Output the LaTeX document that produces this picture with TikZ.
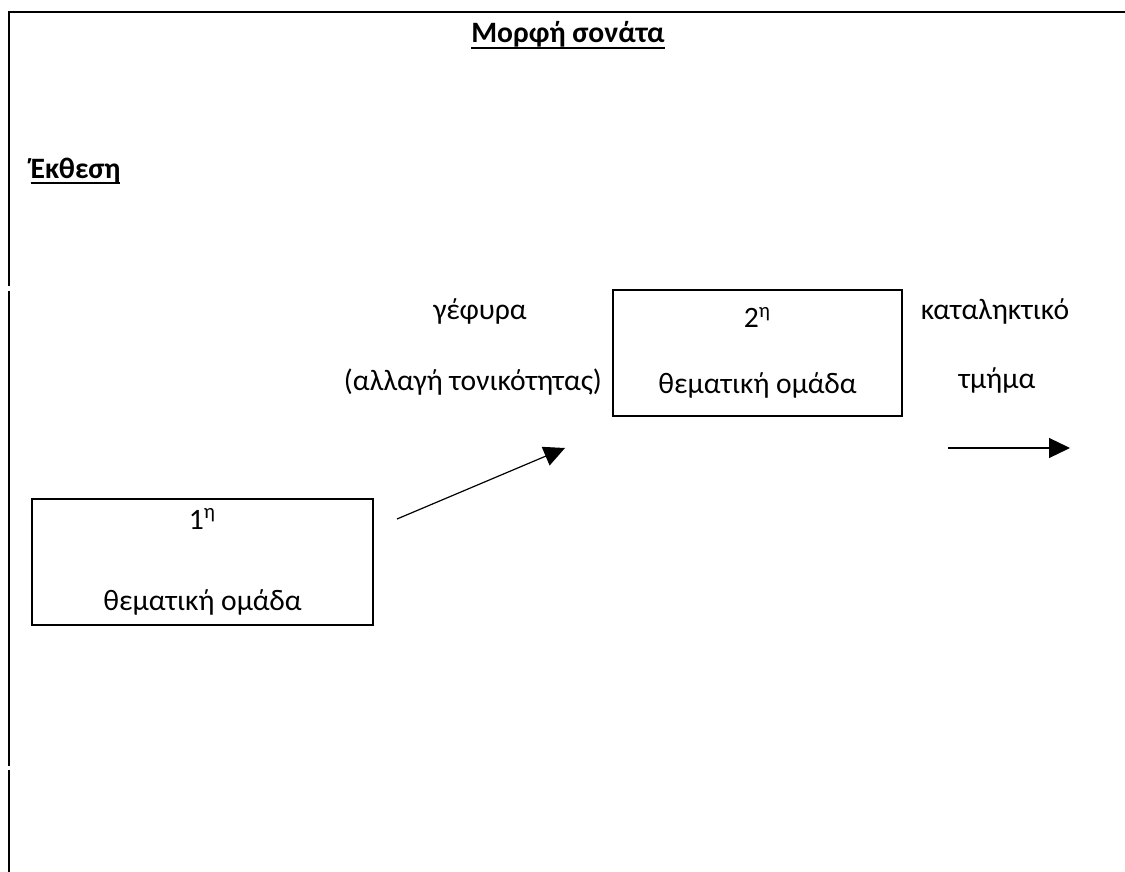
\documentclass[tikz,border=0pt]{standalone}
\usepackage{fontspec}
\setmainfont{Carlito}
\usetikzlibrary{arrows.meta, positioning}

\newcommand{\undl}[1]{\setbox0\hbox{#1}\rlap{\rule[-3pt]{\wd0}{1pt}}\box0}

\tikzset{
  rim/.style={line width=1.1pt},
  groupbox/.style={draw, line width=0.75pt, inner sep=0pt, align=center},
  lbl/.style={anchor=base, inner sep=0pt},
  pointer/.style={line width=0.6pt, -{Triangle[length=10.5pt,width=10pt]}}
}

\begin{document}
\begin{tikzpicture}[x=0.5pt, y=-0.5pt, font=\fontsize{14.8}{17}\selectfont]
    \useasboundingbox (0,0) rectangle (1125,872);
    \draw[rim] (8,12) -- (1125,12)
    (9,12) -- (9,286)
    (9,291) -- (9,766)
    (9,770) -- (9,872);
    \node[lbl] (title) at (568,43) {\undl{\textbf{Μορφή σονάτα}}};
    \node[lbl] (expo) at (75.5,178) {\undl{\textbf{Έκθεση}}};
    \node[groupbox, minimum width=170.5pt, minimum height=63pt] (first) at (202.5,562)
      {1\textsuperscript{η}\\[23.5pt]θεματική ομάδα};
    \node[groupbox, minimum width=144.5pt, minimum height=63pt] (second) at (757.5,353)
      {2\textsuperscript{η}\\[16pt]θεματική ομάδα};
    \node[lbl] (bridge) at (480,319) {γέφυρα};
    \node[lbl] (modul) at (473,390) {(αλλαγή τονικότητας)};
    \node[lbl] (coda) at (995,319) {καταληκτικό};
    \node[lbl] (section) at (997,388) {τμήμα};
    \coordinate (a1) at (397,519);
    \coordinate (a2) at (565,448);
    \draw[pointer] (a1) -- (a2);
    \coordinate (c1) at (948,448);
    \coordinate (c2) at (1070,448);
    \draw[pointer] (c1) -- (c2);
\end{tikzpicture}
\end{document}
